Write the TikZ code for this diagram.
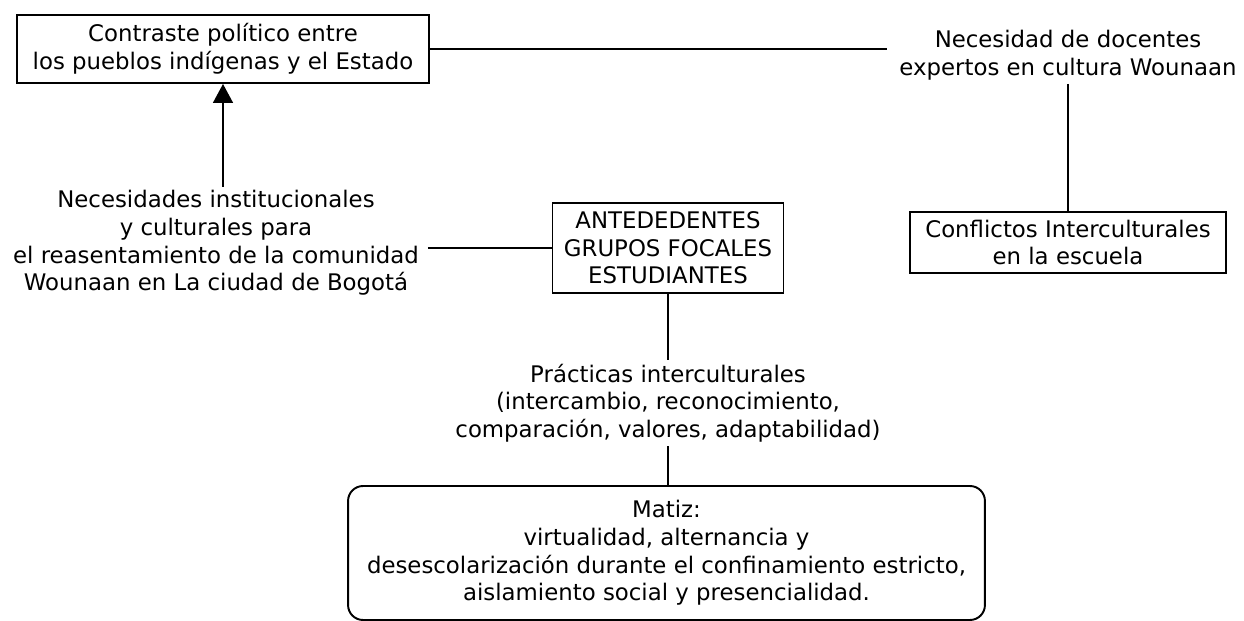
\documentclass[tikz,border=0pt]{standalone}
\usepackage{fontspec}
\setmainfont{DejaVu Sans}
\usetikzlibrary{arrows.meta}
\begin{document}
\begin{tikzpicture}[x=0.02cm, y=-0.02cm, line width=1.1pt,
		txt/.style={align=center, font=\fontsize{13}{15.7}\selectfont, inner sep=1.7pt},
		caja/.style={txt, draw, inner sep=0pt},
	]
			\useasboundingbox (0,0) rectangle (1244,621);
			\node[caja, minimum width=8.24cm, minimum height=1.36cm] (ctr) at (223,49) {Contraste político entre\\los pueblos indígenas y el Estado};
			\node[txt, inner xsep=6.8pt] (wou) at (1068,55) {Necesidad de docentes\\expertos en cultura Wounaan};
			\node[caja, minimum width=6.32cm, minimum height=1.22cm] (con) at (1068,242.5) {Conflictos Interculturales\\en la escuela};
			\node[txt, inner xsep=4.5pt] (nec) at (216,243) {Necesidades institucionales\\y culturales para\\el reasentamiento de la comunidad\\Wounaan en La ciudad de Bogotá};
			\node[caja, minimum width=4.62cm, minimum height=1.8cm] (ant) at (668,248) {ANTEDEDENTES\\GRUPOS FOCALES\\ESTUDIANTES};
			\node[txt] (pra) at (668,403) {Prácticas interculturales\\(intercambio, reconocimiento,\\comparación, valores, adaptabilidad)};
			\node[caja, rounded corners=8.5pt, minimum width=12.74cm, minimum height=2.68cm] (mat) at (666.5,553) {Matiz:\\virtualidad, alternancia y\\desescolarización durante el confinamiento estricto,\\aislamiento social y presencialidad.};
			\draw (ctr.east) -- (ctr.east -| wou.west);
			\draw (wou) -- (con);
			\draw[-{Triangle[length=10.8pt, width=11.3pt]}] (nec.north -| ctr.south) -- (ctr.south);
			\draw (nec.east |- ant.west) -- (ant.west);
			\draw (ant) -- (pra);
			\draw (pra) -- (pra |- mat.north);
		\end{tikzpicture}
\end{document}
